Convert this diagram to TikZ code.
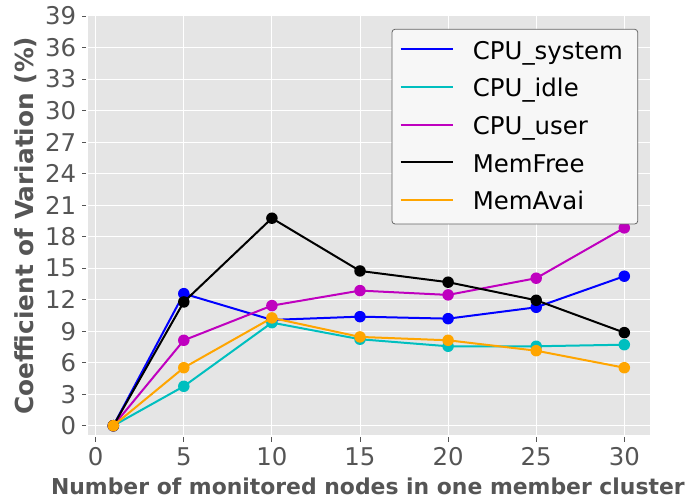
\documentclass[tikz,border=0pt]{standalone}
\usepackage{fontspec}
\setmainfont{DejaVu Sans}
\definecolor{bgc}{HTML}{E5E5E5}
\definecolor{txc}{HTML}{555555}
\definecolor{ccyan}{HTML}{00BFBF}
\definecolor{cmag}{HTML}{BF00BF}
\definecolor{corange}{HTML}{FFA500}
\definecolor{cblue}{HTML}{0000FF}
\tikzset{
  grid line/.style={white, line width=1pt},
  tickmark/.style={txc, line width=0.9pt},
  ticklab/.style={txc, inner sep=0pt, font=\fontsize{24.4}{29}\selectfont},
  series/.style={line width=2pt, line join=round},
  dot/.style={circle, inner sep=0pt, minimum size=11.5pt, fill=#1},
  legtext/.style={black, inner sep=0pt, anchor=base west, font=\fontsize{24.4}{29}\selectfont},
}
\begin{document}
\begin{tikzpicture}
\useasboundingbox (0,0) rectangle (689pt,503pt);
\begin{scope}[shift={(95.7pt,77.3pt)}, x=17.62pt, y=10.505pt]
  \fill[bgc] (-0.42,-0.9) rectangle (31.45,39);
  \foreach \xx in {0,5,...,30} {
    \draw[grid line] (\xx,-0.9) -- (\xx,39);
    \draw[tickmark] (\xx,-0.9) ++(0,-2pt) -- ++(0,-4.5pt);
    \node[ticklab, anchor=base] at (\xx,-0.9) [yshift=-30.5pt] {\xx};
  }
  \foreach \yy in {0,3,...,39} {
    \draw[grid line] (-0.42,\yy) -- (31.45,\yy);
    \draw[tickmark] (-0.42,\yy) ++(-2.3pt,0) -- ++(-4.5pt,0);
    \node[ticklab, anchor=east] at (-0.42,\yy) [xshift=-12pt] {\yy};
  }
  % CPU_system
  \draw[series, cblue] (1,0) -- (5,12.57) -- (10,10.07) -- (15,10.38) -- (20,10.19) -- (25,11.27) -- (30,14.23);
  \foreach \p [count=\i] in {(1,0),(5,12.57),(10,10.07),(15,10.38),(20,10.19),(25,11.27),(30,14.23)}
    \node[dot=cblue] (s\i) at \p {};
  % CPU_idle
  \draw[series, ccyan] (1,0) -- (5,3.75) -- (10,9.81) -- (15,8.23) -- (20,7.56) -- (25,7.56) -- (30,7.71);
  \foreach \p [count=\i] in {(1,0),(5,3.75),(10,9.81),(15,8.23),(20,7.56),(25,7.56),(30,7.71)}
    \node[dot=ccyan] (i\i) at \p {};
  % CPU_user
  \draw[series, cmag] (1,0) -- (5,8.13) -- (10,11.43) -- (15,12.86) -- (20,12.45) -- (25,14.04) -- (30,18.83);
  \foreach \p [count=\i] in {(1,0),(5,8.13),(10,11.43),(15,12.86),(20,12.45),(25,14.04),(30,18.83)}
    \node[dot=cmag] (u\i) at \p {};
  % MemFree
  \draw[series, black] (1,0) -- (5,11.78) -- (10,19.75) -- (15,14.73) -- (20,13.66) -- (25,11.94) -- (30,8.86);
  \foreach \p [count=\i] in {(1,0),(5,11.78),(10,19.75),(15,14.73),(20,13.66),(25,11.94),(30,8.86)}
    \node[dot=black] (f\i) at \p {};
  % MemAvai
  \draw[series, corange] (1,0) -- (5,5.52) -- (10,10.26) -- (15,8.45) -- (20,8.13) -- (25,7.14) -- (30,5.52);
  \foreach \p [count=\i] in {(1,0),(5,5.52),(10,10.26),(15,8.45),(20,8.13),(25,7.14),(30,5.52)}
    \node[dot=corange] (a\i) at \p {};
\end{scope}
% axis labels
\node[txc, inner sep=0pt, anchor=base, font=\fontsize{21.9}{26}\selectfont\bfseries] (xl) at (367.9pt,8pt) {Number of monitored nodes in one member cluster};
\node[txc, inner sep=0pt, anchor=base, rotate=90, font=\fontsize{24.8}{30}\selectfont\bfseries] (yl) at (33.3pt,277.5pt) {Coefficient of Variation (\%)};
% legend
\draw[fill=white!97!black, draw=black!60, line width=0.8pt, rounded corners=3pt] (392pt,473.7pt) rectangle (637.7pt,279pt);
\foreach \c/\t [count=\k from 0] in {cblue/CPU\_system, ccyan/CPU\_idle, cmag/CPU\_user, black/MemFree, corange/MemAvai} {
  \coordinate (la\k) at (400.7pt,{503pt-49.3pt-\k*37.7pt});
  \coordinate (lb\k) at (453.3pt,{503pt-49.3pt-\k*37.7pt});
  \draw[series, \c] (la\k) -- (lb\k);
  \node[legtext] (lt\k) at (472.7pt,{503pt-59.2pt-\k*37.7pt}) {\t};
}
\end{tikzpicture}
\end{document}
